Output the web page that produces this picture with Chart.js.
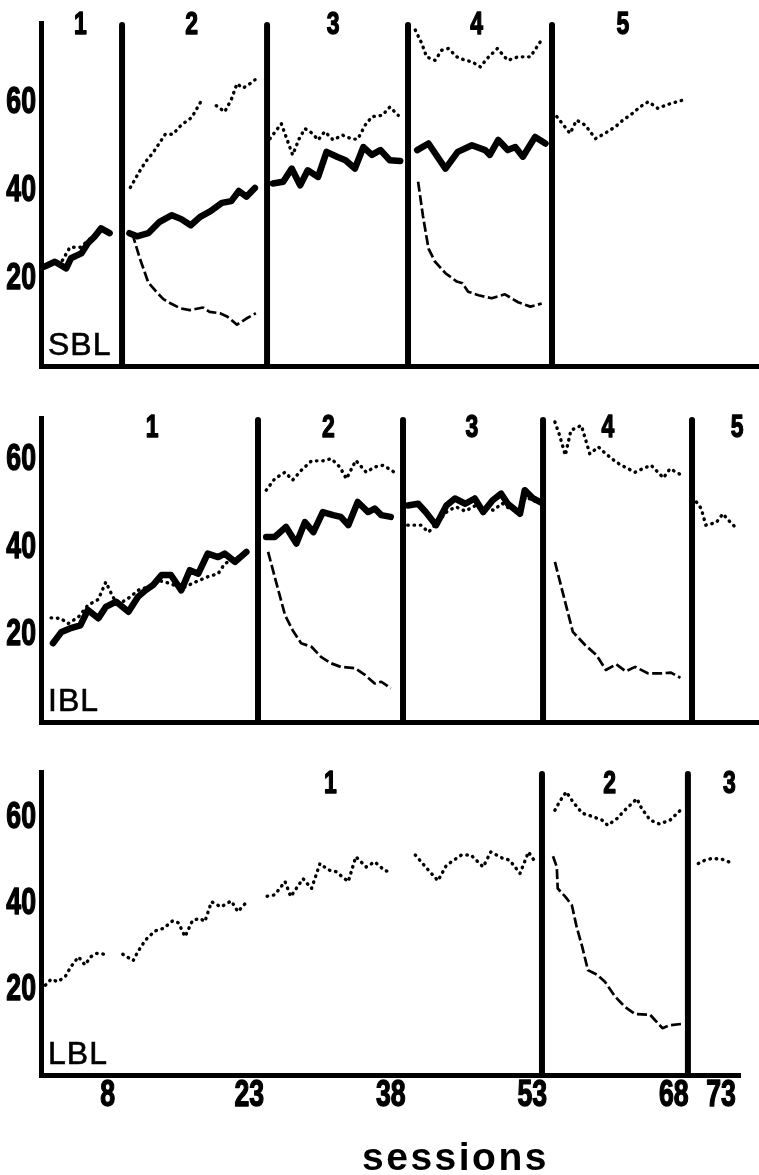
<!DOCTYPE html>
<html>
<head>
<meta charset="utf-8">
<script src="https://cdn.jsdelivr.net/npm/chart.js@4.4.0/dist/chart.umd.min.js"></script>
<style>
html,body{margin:0;padding:0;background:#fff;}
body{width:759px;height:1175px;position:relative;overflow:hidden;}
canvas{position:absolute;left:0;}
</style>
</head>
<body>
<canvas id="sbl" width="759" height="380" style="top:0;width:759px;height:380px"></canvas>
<canvas id="ibl" width="759" height="350" style="top:380px;width:759px;height:350px"></canvas>
<canvas id="lbl" width="759" height="445" style="top:730px;width:759px;height:445px"></canvas>
<script>
// ---------- data (session, value); null = break between phases ----------
const Y_TICKS = [20, 40, 60];
const X_TICKS = [8, 23, 38, 53, 68, 73];
const X_TITLE = 'sessions';

const SBL_PHASES = [9.52, 24.89, 39.83, 55.09];
const SBL_PHASE_NAMES = ['1', '2', '3', '4', '5'];
const SBL_PHASE_LABEL_AT = [5.1, 16.9, 31.9, 47.1, 62.6];

const IBL_PHASES = [23.93, 39.30, 54.14, 69.93];
const IBL_PHASE_NAMES = ['1', '2', '3', '4', '5'];
const IBL_PHASE_LABEL_AT = [12.7, 31.4, 46.6, 61.0, 74.7];

const LBL_PHASES = [54.03, 69.5];
const LBL_PHASE_NAMES = ['1', '2', '3'];
const LBL_PHASE_LABEL_AT = [31.6, 61.2, 73.9];

const SBL_SOLID = [
 [1.3,22.6],[2.4,23.7],[3.6,22.2],[4.1,24.5],[5.2,25.6],[5.9,27.9],[6.6,29.4],[7.3,31.3],[8.2,30.2],
 null,
 [10.3,30.2],[11.1,29.5],[12.3,30.2],[13.5,32.8],[14.8,34.3],[15.8,33.4],[16.8,32.0],[17.8,33.9],[18.9,35.2],[20.1,37.1],[21.1,37.5],[21.9,39.8],[22.7,38.5],[23.6,40.5],
 null,
 [25.5,41.5],[26.6,41.9],[27.5,44.9],[28.4,41.1],[29.2,44.5],[30.3,43.0],[31.2,48.7],[32.3,47.6],[33.2,46.8],[34.2,44.9],[35.1,49.8],[36.0,48.0],[36.9,49.1],[37.9,46.8],[39.0,46.6],
 null,
 [40.8,49.1],[42.0,50.6],[43.8,44.9],[45.1,48.7],[46.6,50.2],[48.0,49.1],[48.5,48.0],[49.4,51.4],[50.4,49.1],[51.2,49.8],[52.0,47.6],[53.3,52.1],[54.4,50.6]
];
const SBL_DOTTED = [
 [1.3,22.6],[2.4,23.5],[3.2,24.0],[4.0,27.0],[5.1,27.0],[5.9,28.5],[6.7,30.0],[7.2,31.3],[8.2,30.2],
 null,
 [10.4,40.6],[11.3,44.0],[12.0,46.4],[12.8,48.5],[14.1,52.7],[14.9,52.7],[15.8,54.8],[16.9,56.5],[18.0,60.6],
 null,
 [19.5,59.2],[20.4,57.8],[21.1,60.6],[21.7,64.2],[22.3,63.2],[22.9,63.9],[23.8,65.4],
 null,
 [25.2,51.7],[26.4,55.1],[27.6,48.0],[28.3,51.7],[28.9,54.0],[29.7,52.9],[30.3,51.4],[31.0,53.3],[31.9,51.4],[32.9,52.5],[33.9,51.6],[34.5,51.6],[35.3,54.8],[36.0,56.7],[37.1,57.0],[37.9,58.9],[38.8,57.0],
 null,
 [40.6,76.4],[41.3,73.3],[41.8,70.3],[42.7,69.5],[43.4,71.8],[44.1,72.2],[45.0,70.3],[45.9,69.5],[46.6,69.2],[47.5,68.0],[48.2,69.9],[49.3,72.2],[50.4,69.5],[51.5,70.3],[52.8,70.3],[53.5,72.6],[54.1,74.5],
 null,
 [55.6,56.7],[56.3,54.8],[57.0,52.9],[57.7,55.9],[58.6,54.8],[59.7,51.7],[60.7,52.9],[61.8,54.4],[62.6,55.9],[63.6,57.4],[64.4,58.9],[65.3,60.1],[66.3,58.6],[67.4,59.5],[69.0,60.5]
];
const SBL_DASHED = [
 [10.6,30.2],[11.4,24.5],[12.3,19.0],[13.1,17.0],[13.9,15.2],[14.7,14.2],[15.7,13.1],[16.7,12.7],[18.1,13.3],[18.8,12.3],[19.9,12.0],[20.7,11.2],[21.7,9.4],[22.7,10.8],[23.7,12.0],
 null,
 [40.9,41.9],[41.4,34.3],[42.0,26.7],[42.7,23.7],[43.8,21.1],[45.0,19.2],[45.6,18.8],[46.2,16.9],[47.3,16.1],[48.7,15.4],[50.1,16.3],[51.5,14.5],[52.8,13.5],[54.0,14.2]
];

const IBL_SOLID = [
 [2.2,18.0],[3.1,20.6],[4.0,21.4],[5.1,22.1],[5.9,25.6],[7.0,23.7],[7.8,26.3],[8.9,27.5],[10.2,25.2],[11.2,28.6],[12.0,30.1],[12.8,31.3],[13.7,33.6],[14.7,33.6],[15.8,30.1],[16.7,34.7],[17.6,33.9],[18.6,38.5],[19.7,37.7],[20.4,38.5],[21.5,36.6],[22.7,38.9],
 null,
 [24.8,42.3],[25.7,42.3],[26.9,44.6],[28.0,40.8],[28.9,45.7],[29.8,43.4],[30.8,48.0],[31.9,47.3],[32.7,46.9],[33.5,45.0],[34.5,50.3],[35.6,48.0],[36.3,48.8],[37.0,47.3],[38.0,46.9],
 null,
 [39.8,49.5],[40.9,49.9],[41.7,48.0],[42.8,45.0],[43.9,49.5],[44.8,51.1],[45.9,49.9],[46.9,51.1],[47.8,48.0],[48.8,50.7],[49.7,52.2],[50.4,49.9],[51.7,47.6],[52.2,53.0],[53.1,51.1],[53.9,50.2]
];
const IBL_DOTTED = [
 [2.0,23.8],[3.0,23.7],[3.8,22.5],[4.9,24.0],[5.9,26.7],[7.0,28.0],[7.8,32.0],[8.6,28.4],[9.3,27.1],[10.4,28.6],[11.2,30.1],[12.3,30.9],[13.3,32.4],[14.6,31.7],[15.8,30.5],[17.3,32.0],[18.6,33.2],[19.7,33.9],[20.4,36.2],[21.5,37.4],[22.6,38.5],
 null,
 [24.8,53.0],[25.7,55.6],[26.8,57.1],[27.6,55.3],[28.5,57.5],[29.6,59.7],[30.8,59.7],[31.7,60.2],[32.6,58.3],[33.3,55.6],[34.3,59.8],[35.4,57.1],[36.3,58.3],[37.2,58.7],[38.6,56.8],
 null,
 [39.8,45.0],[41.2,45.0],[42.0,43.4],[42.9,45.5],[44.0,48.2],[44.9,49.2],[45.9,48.2],[46.9,49.4],[47.9,49.0],[48.9,48.4],[49.8,50.0],[50.7,48.6],[51.7,48.5],[52.3,51.5],[53.2,50.5],[53.9,50.2],
 null,
 [55.4,68.6],[55.9,65.5],[56.5,61.0],[57.1,66.7],[58.2,67.8],[59.1,61.3],[60.0,62.9],[60.8,61.3],[61.9,59.4],[62.8,58.3],[63.9,57.1],[64.7,57.9],[65.6,58.7],[66.9,55.8],[67.6,57.9],[68.7,56.6],
 null,
 [70.4,50.3],[70.9,48.8],[71.4,45.0],[72.5,45.6],[73.2,47.6],[73.8,46.1],[74.5,44.6]
];
const IBL_DASHED = [
 [25.0,38.9],[25.8,32.4],[26.8,24.4],[27.6,21.0],[28.5,18.0],[29.6,17.2],[30.6,14.9],[31.7,13.4],[32.7,12.6],[34.2,12.3],[35.3,10.7],[36.3,8.8],[37.0,9.2],[38.0,7.7],
 null,
 [55.4,36.6],[56.3,29.0],[57.3,20.6],[58.6,17.6],[59.8,15.3],[60.8,11.9],[61.9,13.2],[62.9,11.6],[63.9,12.6],[65.3,11.1],[66.6,11.1],[67.7,11.3],[68.7,10.1]
];

const LBL_DOTTED = [
 [1.4,20.9],[2.0,22.3],[2.7,21.7],[3.5,22.9],[4.1,25.2],[4.9,27.5],[5.6,25.6],[6.2,27.5],[6.8,28.3],[7.7,28.1],
 null,
 [9.6,28.1],[10.7,26.6],[11.2,28.7],[12.0,31.4],[13.0,33.5],[13.9,34.1],[14.9,35.9],[15.5,35.4],[16.2,32.2],[17.0,36.0],[17.8,36.4],[18.3,35.7],[19.0,40.3],[20.0,39.1],[21.1,40.5],[21.8,38.0],[22.9,40.7],
 null,
 [24.9,41.6],[25.7,41.9],[26.8,45.0],[27.4,41.5],[28.7,45.7],[29.6,43.4],[30.5,49.2],[31.4,47.7],[32.2,47.3],[33.5,45.0],[34.3,50.8],[35.4,48.4],[36.3,49.6],[37.4,47.5],[38.0,47.3],
 null,
 [40.6,51.2],[41.7,48.4],[43.0,45.2],[43.9,48.8],[45.5,51.2],[46.5,51.2],[47.8,48.4],[48.6,51.9],[49.9,50.4],[50.6,50.0],[51.7,46.9],[52.6,51.9],[53.3,49.6],
 null,
 [55.4,61.6],[55.9,63.6],[56.6,65.9],[57.3,63.6],[58.3,60.9],[59.3,60.2],[60.4,59.3],[61.0,58.1],[62.0,59.7],[62.8,61.6],[64.1,64.3],[64.6,62.0],[65.5,59.3],[66.5,58.4],[67.6,59.3],[68.7,61.6],
 null,
 [70.6,49.2],[71.3,50.0],[72.1,50.4],[73.1,50.2],[74.3,49.2]
];
const LBL_DASHED = [
 [55.2,50.9],[55.6,48.4],[55.7,43.4],[56.5,41.5],[57.2,39.5],[57.7,34.5],[58.3,29.8],[58.9,24.4],[59.9,23.3],[60.7,21.7],[61.8,18.2],[62.8,15.9],[63.9,14.2],[65.5,14.0],[66.0,12.8],[66.8,10.9],[67.6,11.6],[68.9,11.9]
];

// ---------- rendering ----------
const INK = '#000';
const BOLD_FACE = '"Liberation Sans", Arial, Helvetica, sans-serif';
const SANS = '"Liberation Sans", Arial, Helvetica, sans-serif';
const SQUEEZE = 0.74;   // condensed look of the original lettering

function toPoints(arr) {
  const out = []; let last = 0;
  arr.forEach(p => {
    if (p) { out.push({x: p[0], y: p[1]}); last = p[0]; }
    else out.push({x: last + 0.05, y: null});
  });
  return out;
}
function dotted(arr) {
  return {data: toPoints(arr), borderColor: INK, borderWidth: 3.4, borderDash: [0.5, 5.8],
    borderCapStyle: 'round', borderJoinStyle: 'round', pointRadius: 0, tension: 0, spanGaps: false, fill: false};
}
function solid(arr) {
  return {data: toPoints(arr), borderColor: INK, borderWidth: 6.5,
    borderCapStyle: 'round', borderJoinStyle: 'round', pointRadius: 0, tension: 0, spanGaps: false, fill: false};
}
function dashed(arr) {
  return {data: toPoints(arr), borderColor: INK, borderWidth: 2.7, borderDash: [10, 3.5],
    borderCapStyle: 'butt', borderJoinStyle: 'round', pointRadius: 0, tension: 0, spanGaps: false, fill: false};
}

function squeezedText(ctx, text, x, y, size, align, baseline) {
  ctx.save();
  ctx.font = 'bold ' + size + 'px ' + BOLD_FACE;
  ctx.textAlign = align; ctx.textBaseline = baseline;
  ctx.translate(x, y); ctx.scale(SQUEEZE, 1);
  ctx.lineWidth = 1.4; ctx.strokeStyle = INK; ctx.fillStyle = INK; ctx.lineJoin = 'round';
  ctx.fillText(text, 0, 0); ctx.strokeText(text, 0, 0);
  ctx.restore();
}

const decorPlugin = {
  id: 'decor',
  afterDraw(chart, args, opts) {
    const {ctx, chartArea} = chart;
    const xs = chart.scales.x, ys = chart.scales.y;
    ctx.save();
    // phase change lines
    ctx.strokeStyle = INK; ctx.lineWidth = 6; ctx.lineCap = 'round';
    opts.phases.forEach(b => {
      const px = xs.getPixelForValue(b);
      ctx.beginPath(); ctx.moveTo(px, chartArea.top + 2); ctx.lineTo(px, chartArea.bottom); ctx.stroke();
    });
    ctx.restore();
    // y tick labels (from the scale's own ticks)
    ys.ticks.forEach(t => {
      const lab = t.label != null && t.label !== '' ? String(t.label) : String(t.value);
      squeezedText(ctx, lab, chartArea.left - 5, ys.getPixelForValue(t.value) + 1, 36, 'right', 'middle');
    });
    // x tick labels (bottom panel only)
    if (opts.showX) {
      xs.ticks.forEach(t => {
        const lab = t.label != null && t.label !== '' ? String(t.label) : String(t.value);
        squeezedText(ctx, lab, xs.getPixelForValue(t.value), chartArea.bottom + 31, 36, 'center', 'alphabetic');
      });
    }
    // phase numbers
    opts.names.forEach((n, i) => {
      squeezedText(ctx, n, xs.getPixelForValue(opts.labelAt[i]), ys.getPixelForValue(opts.labelLevel), 31, 'center', 'middle');
    });
    // panel name
    ctx.save();
    ctx.fillStyle = INK; ctx.strokeStyle = INK; ctx.lineWidth = 0.6;
    ctx.textAlign = 'left'; ctx.textBaseline = 'alphabetic';
    ctx.font = '32px ' + SANS;
    try { ctx.letterSpacing = '1px'; } catch (e) {}
    ctx.fillText(opts.panel, chartArea.left + 7, chartArea.bottom - 11);
    ctx.strokeText(opts.panel, chartArea.left + 7, chartArea.bottom - 11);
    if (opts.title) {
      ctx.font = 'bold 39px ' + SANS;
      try { ctx.letterSpacing = '2.5px'; } catch (e) {}
      ctx.fillText(opts.title, 362, chartArea.bottom + 95);
    }
    try { ctx.letterSpacing = '0px'; } catch (e) {}
    ctx.restore();
  }
};

function makePanel(id, p) {
  new Chart(document.getElementById(id), {
    type: 'line',
    data: {datasets: p.datasets},
    options: {
      responsive: false, animation: false, events: [],
      layout: {padding: {top: p.padTop, right: p.padRight, left: 0, bottom: 0}},
      plugins: {legend: {display: false}, tooltip: {enabled: false},
        decor: {phases: p.phases, names: p.names, labelAt: p.labelAt, labelLevel: p.labelLevel,
                panel: p.panel, title: p.title, showX: p.showX}},
      scales: {
        x: {
          type: 'linear', min: 0.93, max: p.xMax,
          grid: {display: false, drawTicks: false},
          border: {display: true, width: 5, color: INK},
          ticks: {display: false, autoSkip: false, maxRotation: 0},
          afterBuildTicks: s => { s.ticks = X_TICKS.map(v => ({value: v})); },
          afterFit: s => { s.height = p.xHeight; }
        },
        y: {
          min: 0, max: p.yMax,
          grid: {display: false, drawTicks: false},
          border: {display: true, width: 5, color: INK},
          ticks: {display: false},
          afterBuildTicks: s => { s.ticks = Y_TICKS.map(v => ({value: v})); },
          afterFit: s => { s.width = 41; }
        }
      }
    },
    plugins: [decorPlugin]
  });
}

makePanel('sbl', {
  datasets: [dotted(SBL_DOTTED), dashed(SBL_DASHED), solid(SBL_SOLID)],
  phases: SBL_PHASES, names: SBL_PHASE_NAMES, labelAt: SBL_PHASE_LABEL_AT, labelLevel: 77.5,
  panel: 'SBL', padTop: 23, padRight: 0, xMax: 77.03, xHeight: 14, yMax: 78, showX: false
});
makePanel('ibl', {
  datasets: [dotted(IBL_DOTTED), dashed(IBL_DASHED), solid(IBL_SOLID)],
  phases: IBL_PHASES, names: IBL_PHASE_NAMES, labelAt: IBL_PHASE_LABEL_AT, labelLevel: 67.2,
  panel: 'IBL', padTop: 38, padRight: 0, xMax: 77.03, xHeight: 8, yMax: 69.5, showX: false
});
makePanel('lbl', {
  datasets: [dotted(LBL_DOTTED), dashed(LBL_DASHED)],
  phases: LBL_PHASES, names: LBL_PHASE_NAMES, labelAt: LBL_PHASE_LABEL_AT, labelLevel: 67.7,
  panel: 'LBL', padTop: 42, padRight: 19, xMax: 75.02, xHeight: 100, yMax: 70.5, showX: true, title: X_TITLE
});
</script>
</body>
</html>
